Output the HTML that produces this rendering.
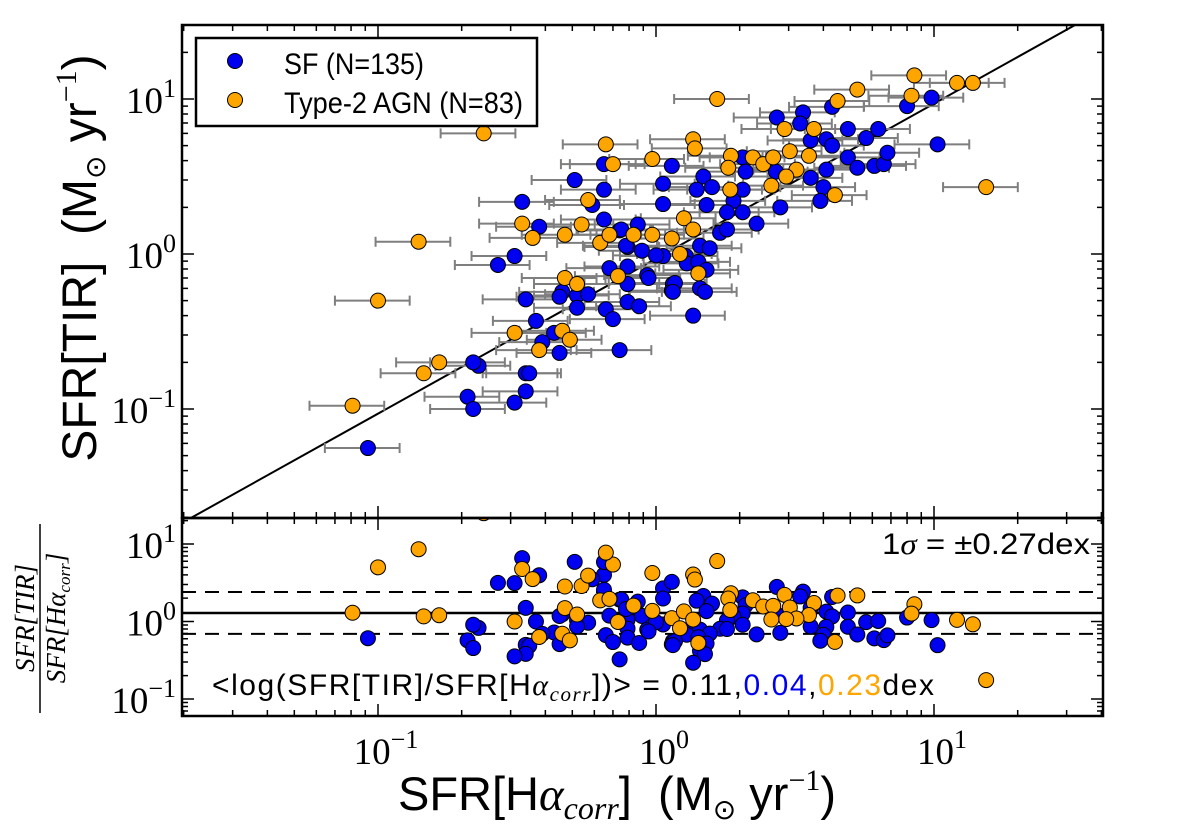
<!DOCTYPE html>
<html><head><meta charset="utf-8"><style>
html,body{margin:0;padding:0;background:#fff;}
svg{display:block;}
text{font-family:"Liberation Sans",sans-serif;}
.serif{font-family:"Liberation Serif",serif;}
</style></head><body>
<svg id="chart" width="1200" height="824" viewBox="0 0 1200 824" xmlns="http://www.w3.org/2000/svg">
<g id="topPanel"></g>
<g id="botPanel"></g>
<g id="labels">
<text transform="translate(96,258) rotate(-90)" text-anchor="middle" font-size="48">SFR[TIR]&#160; (M<tspan font-size="28" dy="9">⊙</tspan><tspan dy="-9"> yr</tspan><tspan font-size="30" dy="-20" class="serif">−1</tspan><tspan dy="20">)</tspan></text>
<text transform="translate(40,618) rotate(-90)" text-anchor="middle" font-size="27" font-style="italic" class="serif"><tspan x="0" dy="-6">SFR[TIR]</tspan><tspan x="0" dy="31">SFR[Hα<tspan font-size="17" dy="5">corr</tspan><tspan dy="-5">]</tspan></tspan></text>
<line x1="40" y1="524" x2="40" y2="713" stroke="#000" stroke-width="1.5"/>
<text x="617" y="810" text-anchor="middle" font-size="47">SFR[H<tspan class="serif" font-style="italic">α</tspan><tspan class="serif" font-style="italic" font-size="32" dy="9">corr</tspan><tspan dy="-9">]&#160; (M</tspan><tspan font-size="28" dy="9">⊙</tspan><tspan dy="-9"> yr</tspan><tspan font-size="30" dy="-20" class="serif">−1</tspan><tspan dy="20">)</tspan></text>
</g>
</svg>
<script>
// ---- data (SFR in Msun/yr) ----
const sfX = [0.33,0.51,0.65,0.38,0.31,0.27,0.65,0.74,0.86,0.79,0.89,1.06,1.14,1.06,0.65,0.79,0.93,0.79,0.68,1.15,1.14,0.34,0.46,0.52,0.57,0.45,0.52,0.66,0.70,0.79,0.87,0.37,0.43,0.39,0.45,0.74,0.23,0.22,0.34,0.35,0.34,0.31,0.21,0.22,0.092,1.06,
2.72,3.38,3.3,4.3,8.0,9.8,4.9,5.7,6.3,3.6,4.1,4.3,4.9,5.3,6.1,6.6,6.8,10.3,2.05,2.1,2.7,4.1,3.6,4.0,3.9,2.8,2.3,2.05,1.9,2.05,1.8,1.7,1.8,1.48,1.59,1.4,1.52,0.59,0.75,0.78,1.0,1.28,1.44,1.56,1.29,1.42,1.52,0.94,1.17,1.15,1.44,1.5,1.36];
const sfY = [2.17,3.0,2.6,1.5,0.97,0.85,1.67,1.42,1.55,1.11,1.05,2.84,3.7,2.1,3.8,0.83,0.73,0.64,0.81,0.64,0.58,0.51,0.57,0.54,0.55,0.53,0.45,0.44,0.38,0.49,0.46,0.37,0.31,0.27,0.23,0.24,0.19,0.20,0.17,0.17,0.13,0.11,0.12,0.10,0.056,0.97,
7.6,8.2,6.95,8.9,9.0,10.2,6.4,5.6,6.4,5.4,5.5,5.0,4.2,3.6,3.7,3.8,4.5,5.1,4.2,3.4,3.4,3.5,3.1,2.7,2.2,2.0,1.57,2.6,2.2,1.86,1.86,1.37,1.44,3.16,2.7,2.6,2.07,2.07,1.44,1.13,0.98,0.97,1.13,1.09,0.87,0.89,0.79,0.70,0.65,0.57,0.60,0.57,0.40];
const agnX = [0.14,0.10,0.081,0.166,0.146,0.33,0.36,0.47,0.54,0.57,0.70,0.97,0.63,0.68,0.83,0.97,1.14,0.47,0.52,0.73,0.31,0.46,0.49,0.38,0.24,
8.5,12.1,13.8,5.3,4.5,8.3,1.66,2.9,3.7,1.36,1.38,0.66,1.86,2.23,2.43,2.64,3.03,3.55,3.2,2.94,1.82,2.6,1.85,4.4,15.4,1.26,1.36,1.22,1.42];
const agnY = [1.2,0.50,0.105,0.20,0.17,1.57,1.27,1.33,1.55,2.23,3.8,4.1,1.18,1.33,1.33,1.33,1.26,0.70,0.64,0.72,0.31,0.32,0.28,0.24,6.0,
14.2,12.7,12.7,11.5,9.7,10.5,10.0,6.4,6.4,5.5,4.8,5.1,4.3,4.2,3.8,4.2,4.6,4.3,3.5,3.16,3.6,2.76,2.6,2.4,2.7,1.7,1.44,1.0,0.75];
const xErrFrac = 0.3;
const yErrFrac = 0.06;
const fitOffset = -0.03;
const meanLogRatio = 0.11;
const sigmaDex = 0.27;
const xTickLabels = ["−1","0","1"];
const yTickLabels = ["−1","0","1"];
const resTickLabels = ["−1","0","1"];

const NS = "http://www.w3.org/2000/svg";
const L = 182, R = 1103, T1 = 25, B1 = 518, B2 = 716;
const xDec = 278, x0 = 656;
const BLUE = '#0000f0', ORANGE = '#ffa500';
const sx = v => x0 + xDec * Math.log10(v);
const sy = v => 254 - 155 * Math.log10(v);
const sr = v => 621.5 - 77.5 * Math.log10(v);
function mk(tag, attrs, parent) { const e = document.createElementNS(NS, tag); for (const k in attrs) e.setAttribute(k, attrs[k]); parent.appendChild(e); return e; }
const topG = document.getElementById('topPanel'), botG = document.getElementById('botPanel');

const defs = mk('defs', {}, document.getElementById('chart'));
const c1 = mk('clipPath', {id: 'c1'}, defs); mk('rect', {x: L, y: T1, width: R - L, height: B1 - T1}, c1);
const c2 = mk('clipPath', {id: 'c2'}, defs); mk('rect', {x: L, y: B1, width: R - L, height: B2 - B1}, c2);
const g1 = mk('g', {'clip-path': 'url(#c1)'}, topG);
const g2 = mk('g', {'clip-path': 'url(#c2)'}, botG);

const fit = mk('line', {x1: L, y1: sy(Math.pow(10, (L - x0) / xDec + fitOffset)), x2: R, y2: sy(Math.pow(10, (R - x0) / xDec + fitOffset)), stroke: '#000', 'stroke-width': 2}, g1);



function errs(xs, ys) {
  for (let i = 0; i < xs.length; i++) {
    const xa = sx(xs[i] * (1 - xErrFrac)), xb = sx(xs[i] * (1 + xErrFrac)), y = sy(ys[i]);
    const e = mk('path', {d: `M${xa},${y}H${xb}M${xa},${y - 5}V${y + 5}M${xb},${y - 5}V${y + 5}M${sx(xs[i])},${sy(ys[i] * (1 - yErrFrac))}V${sy(ys[i] * (1 + yErrFrac))}`, stroke: '#7f7f7f', 'stroke-width': 2, fill: 'none'}, g1);
    
    
  }
}
errs(sfX, sfY); errs(agnX, agnY);

function pts(xs, ys, col, g, yfun, name) {
  for (let i = 0; i < xs.length; i++) {
    const c = mk('circle', {cx: sx(xs[i]), cy: yfun(xs[i], ys[i]), r: 7.5, fill: col, stroke: '#000', 'stroke-width': 1}, g);
    
    
  }
}
pts(sfX, sfY, BLUE, g1, (x, y) => sy(y), 'sf-point');
pts(agnX, agnY, ORANGE, g1, (x, y) => sy(y), 'agn-point');

const ym = sr(Math.pow(10, meanLogRatio)), yu = sr(Math.pow(10, meanLogRatio + sigmaDex)), yl = sr(Math.pow(10, meanLogRatio - sigmaDex));
const ml = mk('line', {x1: L, x2: R, y1: ym, y2: ym, stroke: '#000', 'stroke-width': 2.5}, g2);


[yu, yl].forEach(y => {
  const d = mk('line', {x1: L, x2: R, y1: y, y2: y, stroke: '#000', 'stroke-width': 2, 'stroke-dasharray': '14 9'}, g2);
  
  
});
pts(sfX, sfY, BLUE, g2, (x, y) => sr(y / x), 'sf-residual-point');
pts(agnX, agnY, ORANGE, g2, (x, y) => sr(y / x), 'agn-residual-point');

function frame(g, t, b) { mk('rect', {x: L, y: t, width: R - L, height: b - t, fill: 'none', stroke: '#000', 'stroke-width': 2.5}, g); }
frame(topG, T1, B1); frame(botG, B1, B2);
function xticks(g, t, b) {
  for (let d = -2; d <= 1; d++) for (let m = 1; m <= 9; m++) {
    const x = sx(m * Math.pow(10, d)); if (x < L || x > R) continue;
    const len = m === 1 ? 12 : 6;
    mk('path', {d: `M${x},${t}v${len}M${x},${b}v${-len}`, stroke: '#000', 'stroke-width': 1.5}, g);
  }
}
function yticks(g, f, t, b) {
  for (let d = -3; d <= 1; d++) for (let m = 1; m <= 9; m++) {
    const y = f(m * Math.pow(10, d)); if (y < t || y > b) continue;
    const len = m === 1 ? 12 : 6;
    mk('path', {d: `M${L},${y}h${len}M${R},${y}h${-len}`, stroke: '#000', 'stroke-width': 1.5}, g);
  }
}
xticks(topG, T1, B1); xticks(botG, B1, B2); yticks(topG, sy, T1, B1); yticks(botG, sr, B1, B2);

function pow10Label(g, x, y, exp, anchor, name) {
  const t = mk('text', {x: x, y: y, 'font-size': 37, 'text-anchor': anchor, class: 'serif'}, g);
  
  
  t.innerHTML = `10<tspan font-size="26" dy="-16">${exp}</tspan>`;
}
[-1, 0, 1].forEach((d, i) => pow10Label(botG, sx(Math.pow(10, d)) + 8, 764, xTickLabels[i], 'middle', 'x-tick-label'));
[-1, 0, 1].forEach((d, i) => pow10Label(topG, L - 6, sy(Math.pow(10, d)) + 14, yTickLabels[i], 'end', 'y-tick-label'));
[-1, 0, 1].forEach((d, i) => pow10Label(botG, L - 6, sr(Math.pow(10, d)) + 14, resTickLabels[i], 'end', 'residual-y-tick-label'));

const lg = mk('g', {}, topG);


mk('rect', {x: 196, y: 38, width: 341, height: 88, fill: '#fff', stroke: '#000', 'stroke-width': 2.5}, lg);
[[BLUE, 'SF (N=135)', 61, 'legend-entry-sf', 140], [ORANGE, 'Type-2 AGN (N=83)', 100, 'legend-entry-agn', 239]].forEach(e => {
  const eg = mk('g', {}, lg);
  
  
  mk('circle', {cx: 235, cy: e[2], r: 7.5, fill: e[0], stroke: '#000', 'stroke-width': 1}, eg);
  const t = mk('text', {x: 284, y: e[2] + 13, 'font-size': 30, textLength: e[4], lengthAdjust: 'spacingAndGlyphs'}, eg); t.textContent = e[1];
});

const a1 = mk('text', {x: 882, y: 554, 'font-size': 30, textLength: 208, lengthAdjust: 'spacingAndGlyphs'}, botG);


a1.innerHTML = '1<tspan class="serif" font-style="italic">σ</tspan> = ±0.27dex';
const a2 = mk('text', {x: 212, y: 695, 'font-size': 30, textLength: 722, lengthAdjust: 'spacing'}, botG);


a2.innerHTML = '&lt;log(SFR[TIR]/SFR[H<tspan class="serif" font-style="italic">α</tspan><tspan class="serif" font-style="italic" font-size="21" dy="6">corr</tspan><tspan dy="-6">])&gt; = 0.11,</tspan><tspan fill="#0000f0">0.04</tspan>,<tspan fill="#ffa500">0.23</tspan>dex';
</script>
</body></html>
